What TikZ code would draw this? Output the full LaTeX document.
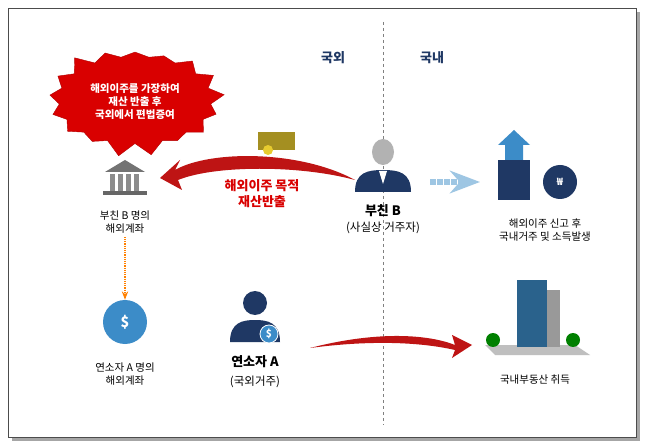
\documentclass[tikz,border=0pt]{standalone}
\usepackage{fontspec}
\setmainfont{Noto Sans CJK KR}
\usetikzlibrary{positioning, arrows.meta, shapes.symbols, calc}
\definecolor{navy}{RGB}{31,56,100}
\definecolor{darkred}{RGB}{190,20,20}
\definecolor{skyblue}{RGB}{60,140,200}
\begin{document}
\begin{tikzpicture}[x=1pt, y=-1pt, >=Stealth,
    lbl/.style={font=\fontsize{10.5}{13}\selectfont, align=center, text=black},
    big/.style={font=\fontsize{13}{15}\selectfont\bfseries, align=center},
    person/.style={fill=navy}]
    \useasboundingbox (0,0) rectangle (645,446);
    % frame
    \fill[black!35] (12,12) rectangle (640,441);
    \draw[fill=white, draw=black!70] (8,8) rectangle (636,437);
    \draw[dashed, black!50] (383,22) -- (383,425);
    \node[big, text=navy] (abroad) at (333,58) {국외};
    \node[big, text=navy] (home) at (432,58) {국내};

    % starburst
    \node[starburst, starburst points=17, starburst point height=14pt, fill=red!85!black,
      draw=red!70!black, minimum width=180pt, minimum height=115pt, random starburst=3] (burst) at (135,100) {};
    \node[font=\fontsize{10.5}{13}\selectfont\bfseries, text=white, align=center] (bursttext) at (135,102)
      {해외이주를 가장하여\\재산 반출 후\\국외에서 편법증여};

    % bank
    \coordinate (bank) at (125,180);
    \fill[black!55] ($(bank)+(-20,-8)$) -- ($(bank)+(0,-20)$) -- ($(bank)+(20,-8)$) -- cycle;
    \foreach \dx in {-15,-7,1,9} \fill[black!45] ($(bank)+(\dx,-6)$) rectangle ++(5,17);
    \fill[black!60] ($(bank)+(-22,11)$) rectangle ($(bank)+(22,15)$);
    \node[lbl] (bankB) at (125,222) {부친 B 명의\\해외계좌};

    % money bag A
    \node[circle, fill=skyblue, minimum size=44pt, text=white, font=\bfseries\Large] (bagA) at (125,322) {\$};
    \node[lbl] (accA) at (125,374) {연소자 A 명의\\해외계좌};
    \draw[->, orange, densely dotted, very thick] (bankB) -- (bagA);

    % father B
    \coordinate (fb) at (383,170);
    \fill[person] ($(fb)+(-28,22)$) .. controls ($(fb)+(-28,2)$) and ($(fb)+(-15,0)$) .. ($(fb)+(0,0)$)
      .. controls ($(fb)+(15,0)$) and ($(fb)+(28,2)$) .. ($(fb)+(28,22)$) -- cycle;
    \fill[black!30] ($(fb)+(0,-18)$) ellipse (11 and 13);
    \fill[white] ($(fb)+(-4,1)$) -- ($(fb)+(4,1)$) -- ($(fb)+(0,14)$) -- cycle;
    \node[big] (fatherB) at (383,211) {부친 B};
    \node[lbl, font=\fontsize{11.5}{13}\selectfont] (fatherBsub) at (383,228) {(사실상 거주자)};

    % transfer abroad
    \fill[darkred] (355,180) .. controls (300,150) and (210,150) .. (175,170)
      -- (180,160) -- (160,178) -- (182,190) -- (178,180)
      .. controls (215,165) and (300,165) .. (355,180) -- cycle;
    \fill[olive!60!brown] (258,132) rectangle (295,150);
    \fill[yellow!60!brown] (268,150) circle (5);
    \node[font=\fontsize{13}{16}\selectfont\bfseries, text=red!85!black, align=center] (transfer) at (262,194) {해외이주 목적\\재산반출};

    % domestic income
    \draw[->, skyblue!50, densely dotted, line width=6pt] (430,182) -- (480,182);
    \coordinate (inc) at (520,200);
    \fill[navy] ($(inc)+(-22,0)$) rectangle ($(inc)+(10,-40)$);
    \fill[skyblue] ($(inc)+(-15,-40)$) -- ($(inc)+(-15,-55)$) -- ($(inc)+(-22,-55)$) -- ($(inc)+(-6,-70)$)
      -- ($(inc)+(10,-55)$) -- ($(inc)+(3,-55)$) -- ($(inc)+(3,-40)$) -- cycle;
    \node[circle, fill=navy, minimum size=34pt, text=white, font=\bfseries] (bagB) at (560,182) {₩};
    \node[lbl] (income) at (545,230) {해외이주 신고 후\\국내거주 및 소득발생};

    % son A
    \coordinate (sa) at (255,320);
    \fill[person] ($(sa)+(-25,22)$) .. controls ($(sa)+(-25,2)$) and ($(sa)+(-12,0)$) .. ($(sa)+(0,0)$)
      .. controls ($(sa)+(12,0)$) and ($(sa)+(25,2)$) .. ($(sa)+(25,22)$) -- cycle;
    \fill[person] ($(sa)+(0,-17)$) circle (12);
    \node[circle, fill=skyblue, draw=white, thick, minimum size=18pt, inner sep=0pt, text=white, font=\bfseries] (coin) at ($(sa)+(14,14)$) {\$};
    \node[big] (sonA) at (255,362) {연소자 A};
    \node[lbl, font=\fontsize{11.5}{13}\selectfont] (sonAsub) at (255,382) {(국외거주)};

    % real estate
    \fill[darkred] (310,348) .. controls (380,330) and (430,335) .. (455,345)
      -- (452,335) -- (472,345) -- (452,358) -- (455,350)
      .. controls (420,342) and (370,340) .. (310,348) -- cycle;
    \coordinate (bd) at (535,325);
    \fill[black!25] ($(bd)+(-50,20)$) -- ($(bd)+(40,20)$) -- ($(bd)+(55,30)$) -- ($(bd)+(-40,30)$) -- cycle;
    \fill[skyblue!70!black] ($(bd)+(-18,-45)$) rectangle ($(bd)+(12,22)$);
    \fill[black!40] ($(bd)+(12,-35)$) rectangle ($(bd)+(25,22)$);
    \fill[green!50!black] ($(bd)+(-42,15)$) circle (7);
    \fill[green!50!black] ($(bd)+(38,15)$) circle (7);
    \node[lbl] (estate) at (535,380) {국내부동산 취득};
\end{tikzpicture}
\end{document}
